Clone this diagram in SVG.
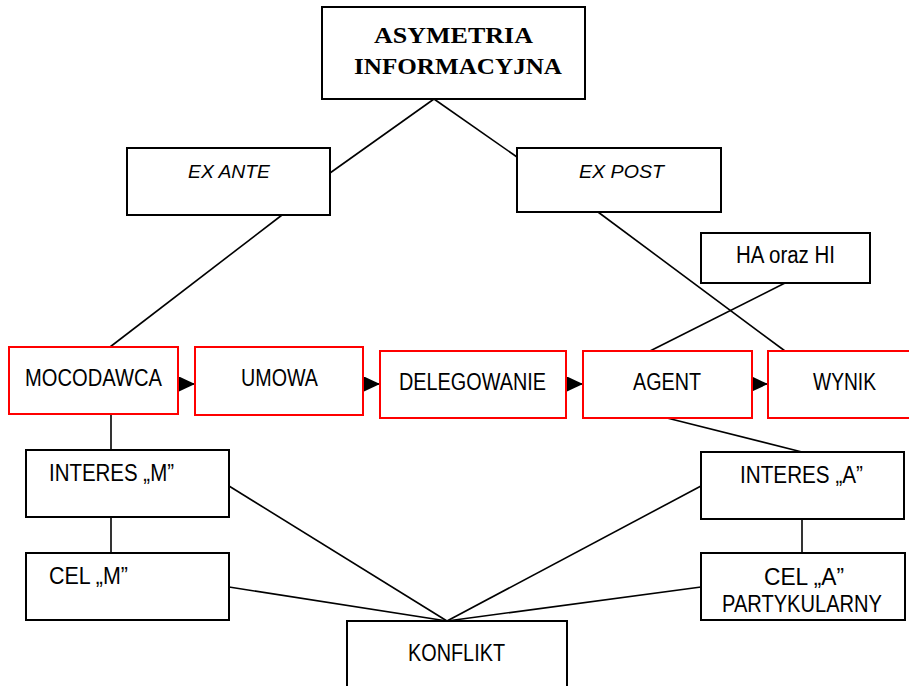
<svg xmlns="http://www.w3.org/2000/svg" width="909" height="686" viewBox="0 0 909 686">
<defs>
<style>
.b{fill:#fff;stroke:#000;stroke-width:2}
.r{fill:#fff;stroke:#ff0000;stroke-width:2}
.t{font-family:"Liberation Sans",Arial,sans-serif;font-size:23px;fill:#000}
.i{font-family:"Liberation Sans",Arial,sans-serif;font-size:19px;font-style:italic;fill:#000}
.h{font-family:"Liberation Serif","Times New Roman",serif;font-size:23px;font-weight:bold;fill:#000}
.c line{stroke:#000;stroke-width:1.6}
</style>
<marker id="ar" viewBox="0 0 16 15" refX="16" refY="7.5" markerWidth="16" markerHeight="15" markerUnits="userSpaceOnUse" orient="auto">
<path d="M0,0 L16,7.5 L0,15 z" fill="#000"/>
</marker>
</defs>
<rect width="909" height="686" fill="#fff"/>
<g id="connectors" class="c">
<line x1="434" y1="99" x2="330" y2="173"/>
<line x1="434" y1="99" x2="517" y2="157"/>
<line x1="282" y1="215" x2="110" y2="347"/>
<line x1="598" y1="212" x2="785" y2="351"/>
<line x1="785" y1="283" x2="650" y2="351"/>
<line x1="667" y1="418" x2="802" y2="452"/>
<line x1="111" y1="414" x2="111" y2="450"/>
<line x1="111" y1="517" x2="111" y2="553"/>
<line x1="802" y1="519" x2="802" y2="553"/>
<line x1="229" y1="486" x2="447" y2="621"/>
<line x1="229" y1="587" x2="447" y2="621"/>
<line x1="701" y1="486" x2="447" y2="621"/>
<line x1="701" y1="587" x2="447" y2="621"/>
<line x1="178" y1="384" x2="195" y2="384" marker-end="url(#ar)"/>
<line x1="363" y1="384" x2="380" y2="384" marker-end="url(#ar)"/>
<line x1="566" y1="384" x2="583" y2="384" marker-end="url(#ar)"/>
<line x1="752" y1="384" x2="768" y2="384" marker-end="url(#ar)"/>
</g>
<g id="asymetria">
<rect class="b" x="322" y="7" width="263" height="92"/>
<text class="h" x="374" y="43" textLength="159" lengthAdjust="spacingAndGlyphs">ASYMETRIA</text>
<text class="h" x="354" y="74" textLength="208" lengthAdjust="spacingAndGlyphs">INFORMACYJNA</text>
</g>
<g id="exante">
<rect class="b" x="127" y="148" width="203" height="67"/>
<text class="i" x="188" y="178" textLength="82" lengthAdjust="spacingAndGlyphs">EX ANTE</text>
</g>
<g id="expost">
<rect class="b" x="517" y="148" width="204" height="64"/>
<text class="i" x="579" y="178" textLength="85" lengthAdjust="spacingAndGlyphs">EX POST</text>
</g>
<g id="haorazhi">
<rect class="b" x="701" y="233" width="169" height="50"/>
<text class="t" x="736" y="263" textLength="99" lengthAdjust="spacingAndGlyphs">HA oraz HI</text>
</g>
<g id="mocodawca">
<rect class="r" x="9" y="347" width="169" height="67"/>
<text class="t" x="25" y="386" textLength="137" lengthAdjust="spacingAndGlyphs">MOCODAWCA</text>
</g>
<g id="umowa">
<rect class="r" x="195" y="347" width="168" height="68"/>
<text class="t" x="241" y="386" textLength="77" lengthAdjust="spacingAndGlyphs">UMOWA</text>
</g>
<g id="delegowanie">
<rect class="r" x="380" y="351" width="186" height="67"/>
<text class="t" x="399" y="390" textLength="147" lengthAdjust="spacingAndGlyphs">DELEGOWANIE</text>
</g>
<g id="agent">
<rect class="r" x="583" y="351" width="169" height="67"/>
<text class="t" x="633" y="390" textLength="68" lengthAdjust="spacingAndGlyphs">AGENT</text>
</g>
<g id="wynik">
<rect class="r" x="768" y="351" width="146" height="67"/>
<text class="t" x="813" y="390" textLength="63" lengthAdjust="spacingAndGlyphs">WYNIK</text>
</g>
<g id="interesm">
<rect class="b" x="26" y="450" width="203" height="67"/>
<text class="t" x="49" y="481" textLength="125" lengthAdjust="spacingAndGlyphs">INTERES „M”</text>
</g>
<g id="interesa">
<rect class="b" x="701" y="452" width="203" height="67"/>
<text class="t" x="740" y="483" textLength="123" lengthAdjust="spacingAndGlyphs">INTERES „A”</text>
</g>
<g id="celm">
<rect class="b" x="26" y="553" width="203" height="67"/>
<text class="t" x="49" y="584" textLength="79" lengthAdjust="spacingAndGlyphs">CEL „M”</text>
</g>
<g id="cela">
<rect class="b" x="701" y="553" width="204" height="67"/>
<text class="t" x="764" y="585" textLength="80" lengthAdjust="spacingAndGlyphs">CEL „A”</text>
<text class="t" x="722" y="612" textLength="160" lengthAdjust="spacingAndGlyphs">PARTYKULARNY</text>
</g>
<g id="konflikt">
<rect class="b" x="347" y="621" width="220" height="80"/>
<text class="t" x="408" y="661" textLength="97" lengthAdjust="spacingAndGlyphs">KONFLIKT</text>
</g>
</svg>
